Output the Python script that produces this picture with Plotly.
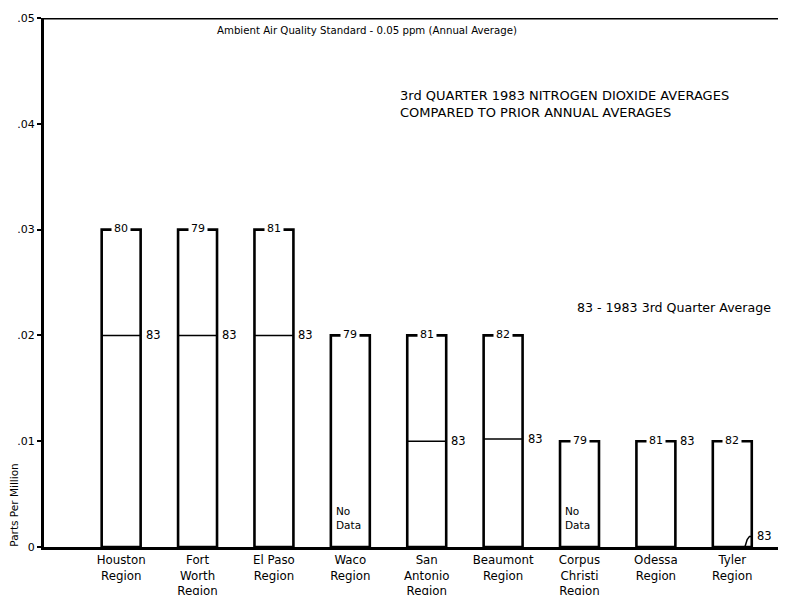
import plotly.graph_objects as go

regions = ["Houston<br>Region", "Fort<br>Worth<br>Region", "El Paso<br>Region", "Waco<br>Region",
           "San<br>Antonio<br>Region", "Beaumont<br>Region", "Corpus<br>Christi<br>Region",
           "Odessa<br>Region", "Tyler<br>Region"]
prior_avg = [0.03, 0.03, 0.03, 0.02, 0.02, 0.02, 0.01, 0.01, 0.01]
prior_year = ["80", "79", "81", "79", "81", "82", "79", "81", "82"]
q3_1983 = [0.02, 0.02, 0.02, None, 0.01, 0.0102, None, 0.01, 0.001]
y_ticks = [0, 0.01, 0.02, 0.03, 0.04, 0.05]
y_tick_text = ["0", ".01", ".02", ".03", ".04", ".05"]

FONT = "DejaVu Sans"
W = 0.51
xs = list(range(len(regions)))

fig = go.Figure()

fig.add_trace(go.Bar(
    x=xs, y=prior_avg, width=W,
    marker=dict(color="rgba(255,255,255,0)", line=dict(color="black", width=2.6)),
    hoverinfo="skip", showlegend=False,
))

# 1983 third-quarter lines
lx, ly = [], []
annotations = []
for i, v in enumerate(q3_1983):
    if v is None:
        continue
    right = i + W / 2
    if v < 0.005:
        lx += [right - 0.09, right - 0.06, right - 0.03, right, None]
        ly += [0, v * 0.7, v, v, None]
    else:
        lx += [i - W / 2, right, None]
        ly += [v, v, None]
    annotations.append(dict(x=right, y=v, text="83", showarrow=False, xref="x", yref="y",
                            xanchor="left", yanchor="middle", xshift=3,
                            font=dict(family=FONT, size=11.5, color="black")))

fig.add_trace(go.Scatter(x=lx, y=ly, mode="lines", line=dict(color="black", width=1.5),
                         hoverinfo="skip", showlegend=False))

for i, (v, lab) in enumerate(zip(prior_avg, prior_year)):
    annotations.append(dict(x=i, y=v, text=lab, showarrow=False, xref="x", yref="y",
                            font=dict(family=FONT, size=11, color="black"),
                            bgcolor="white", borderpad=2, yshift=1))
for i, v in enumerate(q3_1983):
    if v is None:
        annotations.append(dict(x=i - W / 2, y=0.0027, text="No<br>Data", showarrow=False,
                                xref="x", yref="y", xanchor="left", yanchor="middle", align="left",
                                xshift=3, font=dict(family=FONT, size=10.5, color="black")))

annotations += [
    dict(x=0.2308, y=0.0488, xref="paper", yref="y", xanchor="left", yanchor="middle",
         text="Ambient Air Quality Standard - 0.05 ppm (Annual Average)", showarrow=False,
         font=dict(family=FONT, size=10.2, color="black")),
    dict(x=0.478, y=0.0419, xref="paper", yref="y", xanchor="left", yanchor="middle", align="left",
         text="3rd QUARTER 1983 NITROGEN DIOXIDE AVERAGES<br>COMPARED TO PRIOR ANNUAL AVERAGES",
         showarrow=False, font=dict(family=FONT, size=13, color="black")),
    dict(x=0.717, y=0.0226, xref="paper", yref="y", xanchor="left", yanchor="middle",
         text="83 - 1983 3rd Quarter Average", showarrow=False,
         font=dict(family=FONT, size=12.6, color="black")),
    dict(x=-0.0405, y=0.004, xref="paper", yref="y", xanchor="center", yanchor="middle",
         text="Parts Per Million", textangle=-90, showarrow=False,
         font=dict(family=FONT, size=10.5, color="black")),
]

# the page body has an 8px default margin; margins below compensate for it
fig.update_layout(
    width=786, height=595,
    margin=dict(l=36, r=9, t=10, b=56),
    paper_bgcolor="white", plot_bgcolor="white",
    showlegend=False,
    annotations=annotations,
    shapes=[dict(type="line", xref="paper", yref="y", x0=0, x1=1, y0=0.05, y1=0.05,
                 line=dict(color="black", width=3))],
    xaxis=dict(range=[-1.01, 8.69], tickmode="array", tickvals=xs, ticktext=regions,
               showgrid=False, zeroline=False, showline=True, linecolor="black", linewidth=3,
               ticks="", automargin=False,
               tickfont=dict(family=FONT, size=11.8, color="black")),
    yaxis=dict(range=[0, 0.05], tickmode="array", tickvals=y_ticks, ticktext=y_tick_text,
               showgrid=False, zeroline=False, showline=True, linecolor="black", linewidth=3,
               ticks="outside", ticklen=4, tickwidth=2, tickcolor="black", automargin=False,
               tickfont=dict(family=FONT, size=11, color="black")),
)

fig.write_html("out.html")
